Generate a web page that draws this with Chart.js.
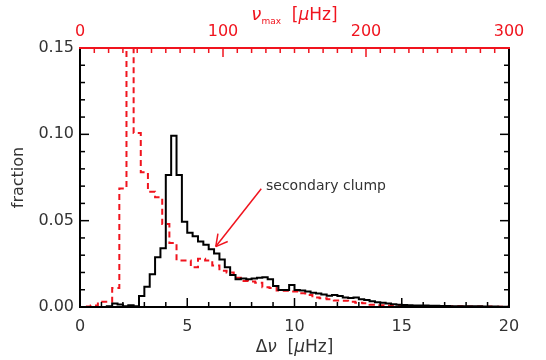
<!DOCTYPE html>
<html>
<head>
<meta charset="utf-8">
<script src="https://cdn.jsdelivr.net/npm/chart.js@4.4.1/dist/chart.umd.min.js"></script>
<style>
  html, body { margin: 0; padding: 0; background: #fff; }
  #wrap { width: 546px; height: 360px; position: relative; }
</style>
</head>
<body>
<div id="wrap"><canvas id="hist"></canvas></div>
<script>
// Δν histogram (black, bottom axis) and νmax histogram (red dashed, top axis)
const dnuBinStart = 0;
const dnuBinWidth = 0.25;
const dnuFraction = [
  0, 0, 0, 0, 0, 0.0005, 0.002, 0.0015, 0.0005, 0.001,
  0.0005, 0.0064, 0.0118, 0.019, 0.0288, 0.034, 0.0764, 0.0992, 0.0764, 0.0494,
  0.043, 0.041, 0.038, 0.036, 0.0335, 0.031, 0.0275, 0.023, 0.0185, 0.016,
  0.0165, 0.016, 0.0165, 0.017, 0.0172, 0.016, 0.0122, 0.0098, 0.0098, 0.0127,
  0.0098, 0.0095, 0.009, 0.0082, 0.0078, 0.0072, 0.0065, 0.0069, 0.0064, 0.0055,
  0.0052, 0.0055, 0.0045, 0.004, 0.0033, 0.0027, 0.0024, 0.002, 0.0016, 0.0013,
  0.0011, 0.001, 0.0009, 0.0008, 0.0008, 0.0007, 0.0007, 0.0006, 0.0006, 0.0005,
  0.0005, 0.0005, 0.0004, 0.0004, 0.0004, 0.0003, 0.0003, 0.0003, 0.0002, 0.0002
];

const numaxBinStart = -2.5;
const numaxBinWidth = 5;
const numaxFraction = [
  0, 0.0003, 0.0008, 0.003, 0.003, 0.011, 0.0687, 0.16, 0.1007, 0.078,
  0.0668, 0.0635, 0.048, 0.037, 0.027, 0.027, 0.023, 0.028, 0.027, 0.024,
  0.021, 0.02, 0.017, 0.015, 0.0147, 0.014, 0.0115, 0.011, 0.0095, 0.0094,
  0.009, 0.0079, 0.007, 0.0055, 0.005, 0.0045, 0.0038, 0.0036, 0.003, 0.0025,
  0.0021, 0.0013, 0.001, 0.0008, 0.0007, 0.0007, 0.0006, 0.0006, 0.0005, 0.0005,
  0.0005, 0.0004, 0.0004, 0.0004, 0.0003, 0.0003, 0.0003, 0.0003, 0.0002, 0.0002,
  0.0002
];

const yTicks = [0, 0.05, 0.10, 0.15];
const yTickLabels = ['0.00', '0.05', '0.10', '0.15'];
const dnuTicks = [0, 5, 10, 15, 20];
const numaxTicks = [0, 100, 200, 300];

const note = { text: 'secondary clump', textAt: [8.67, 0.07], tail: [8.45, 0.0685], tip: [6.33, 0.035] };

const ink = '#000';
const textInk = '#333';
const red = '#f0141e';
const font = 'DejaVu Sans';

// histogram outline: left edge of every bin, plus the right edge of the last one
function histPoints(start, width, values) {
  const pts = values.map((v, i) => ({ x: start + i * width, y: v }));
  pts.push({ x: start + values.length * width, y: values[values.length - 1] });
  return pts;
}

function setTicks(list) {
  return scale => { scale.ticks = list.map(v => ({ value: v })); };
}

function drawParts(ctx, parts, cx, baseY, color) {
  let total = 0;
  parts.forEach(p => { ctx.font = p.font; p.w = ctx.measureText(p.t).width; total += p.w; });
  let xx = cx - total / 2;
  ctx.fillStyle = color;
  ctx.textBaseline = 'alphabetic';
  ctx.textAlign = 'left';
  parts.forEach(p => {
    ctx.font = p.font;
    ctx.fillText(p.t, xx, baseY + (p.dy || 0));
    xx += p.w;
  });
}

const decorations = {
  id: 'decorations',
  afterDatasetsDraw(chart) {
    const { ctx, chartArea: a, scales } = chart;
    const x = scales.x, x2 = scales.x2, y = scales.y;
    const line = (x0, y0, x1, y1) => { ctx.beginPath(); ctx.moveTo(x0, y0); ctx.lineTo(x1, y1); ctx.stroke(); };
    ctx.save();
    ctx.lineCap = 'butt';

    // inward ticks, black
    ctx.strokeStyle = ink;
    ctx.lineWidth = 1.5;
    for (let k = 0; k <= 20; k++) {
      const px = x.getPixelForValue(k);
      line(px, a.bottom, px, a.bottom - (k % 5 === 0 ? 9 : 5));
    }
    for (let k = 0; k <= 15; k++) {
      const py = y.getPixelForValue(k * 0.01);
      const len = k % 5 === 0 ? 9 : 5;
      line(a.left, py, a.left + len, py);
      line(a.right, py, a.right - len, py);
    }
    // top axis ticks, red
    ctx.strokeStyle = red;
    for (let k = 0; k <= 30; k++) {
      const px = x2.getPixelForValue(k * 10);
      line(px, a.top, px, a.top + (k % 10 === 0 ? 9 : 5));
    }

    // frame
    ctx.lineWidth = 2;
    ctx.strokeStyle = ink;
    line(a.left, a.top, a.left, a.bottom + 1);
    line(a.right, a.top, a.right, a.bottom + 1);
    line(a.left - 1, a.bottom, a.right + 1, a.bottom);
    ctx.strokeStyle = red;
    line(a.left - 1, a.top, a.right + 1, a.top);

    // axis titles
    ctx.fillStyle = textInk;
    ctx.font = '16px "' + font + '"';
    ctx.save();
    ctx.translate(19, (a.top + a.bottom) / 2);
    ctx.rotate(-Math.PI / 2);
    ctx.textAlign = 'center';
    ctx.textBaseline = 'middle';
    ctx.fillText('fraction', 0, 0);
    ctx.restore();

    const cx = (a.left + a.right) / 2;
    drawParts(ctx, [
      { t: 'Δ', font: '17px "' + font + '"' },
      { t: 'ν', font: 'italic 17px "' + font + '"' },
      { t: '  [', font: '17px "' + font + '"' },
      { t: 'μ', font: 'italic 17px "' + font + '"' },
      { t: 'Hz]', font: '17px "' + font + '"' }
    ], cx, 352, textInk);
    drawParts(ctx, [
      { t: 'ν', font: 'italic 18px "' + font + '"' },
      { t: 'max', font: '9px "' + font + '"', dy: 4 },
      { t: '  [', font: '17px "' + font + '"' },
      { t: 'μ', font: 'italic 17px "' + font + '"' },
      { t: 'Hz]', font: '17px "' + font + '"' }
    ], cx, 20, red);

    // annotation
    const tx = x.getPixelForValue(note.tail[0]), ty = y.getPixelForValue(note.tail[1]);
    const hx = x.getPixelForValue(note.tip[0]), hy = y.getPixelForValue(note.tip[1]);
    ctx.strokeStyle = red;
    ctx.lineWidth = 1.5;
    line(tx, ty, hx, hy);
    const ang = Math.atan2(hy - ty, hx - tx);
    const head = 13;
    [0.5, -0.5].forEach(d => line(hx, hy, hx - head * Math.cos(ang + d), hy - head * Math.sin(ang + d)));
    ctx.fillStyle = textInk;
    ctx.font = '14px "' + font + '"';
    ctx.textAlign = 'left';
    ctx.textBaseline = 'middle';
    ctx.fillText(note.text, x.getPixelForValue(note.textAt[0]), y.getPixelForValue(note.textAt[1]));
    ctx.restore();
  }
};

const tickFont = { family: font, size: 16 };

new Chart(document.getElementById('hist'), {
  type: 'line',
  data: {
    datasets: [
      {
        label: 'Δν',
        data: histPoints(dnuBinStart, dnuBinWidth, dnuFraction),
        xAxisID: 'x', yAxisID: 'y',
        borderColor: ink, borderWidth: 2,
        stepped: true, pointRadius: 0, fill: false
      },
      {
        label: 'νmax',
        data: histPoints(numaxBinStart, numaxBinWidth, numaxFraction),
        xAxisID: 'x2', yAxisID: 'y',
        borderColor: red, borderWidth: 2, borderDash: [6, 4],
        stepped: true, pointRadius: 0, fill: false
      }
    ]
  },
  options: {
    responsive: true,
    maintainAspectRatio: false,
    animation: false,
    events: [],
    layout: { padding: 0 },
    plugins: { legend: { display: false }, tooltip: { enabled: false } },
    scales: {
      x: {
        type: 'linear', position: 'bottom', min: 0, max: 20,
        afterBuildTicks: setTicks(dnuTicks),
        afterFit: s => { s.height = 53; },
        grid: { display: false, drawTicks: false },
        border: { display: false },
        ticks: { font: tickFont, color: textInk, padding: 10, maxRotation: 0 }
      },
      x2: {
        type: 'linear', position: 'top', min: 0, max: 300,
        afterBuildTicks: setTicks(numaxTicks),
        afterFit: s => { s.height = 48; },
        grid: { display: false, drawTicks: false },
        border: { display: false },
        ticks: { font: tickFont, color: red, padding: 7, maxRotation: 0 }
      },
      y: {
        type: 'linear', position: 'left', min: 0, max: 0.15,
        afterBuildTicks: setTicks(yTicks),
        afterFit: s => { s.width = 80; },
        grid: { display: false, drawTicks: false },
        border: { display: false },
        ticks: {
          font: tickFont, color: textInk, padding: 6,
          callback: v => yTickLabels[yTicks.findIndex(t => Math.abs(t - v) < 1e-9)]
        }
      },
      y2: {
        type: 'linear', position: 'right', min: 0, max: 0.15,
        afterFit: s => { s.width = 37; },
        grid: { display: false, drawTicks: false },
        border: { display: false },
        ticks: { display: false }
      }
    }
  },
  plugins: [decorations]
});
</script>
</body>
</html>
